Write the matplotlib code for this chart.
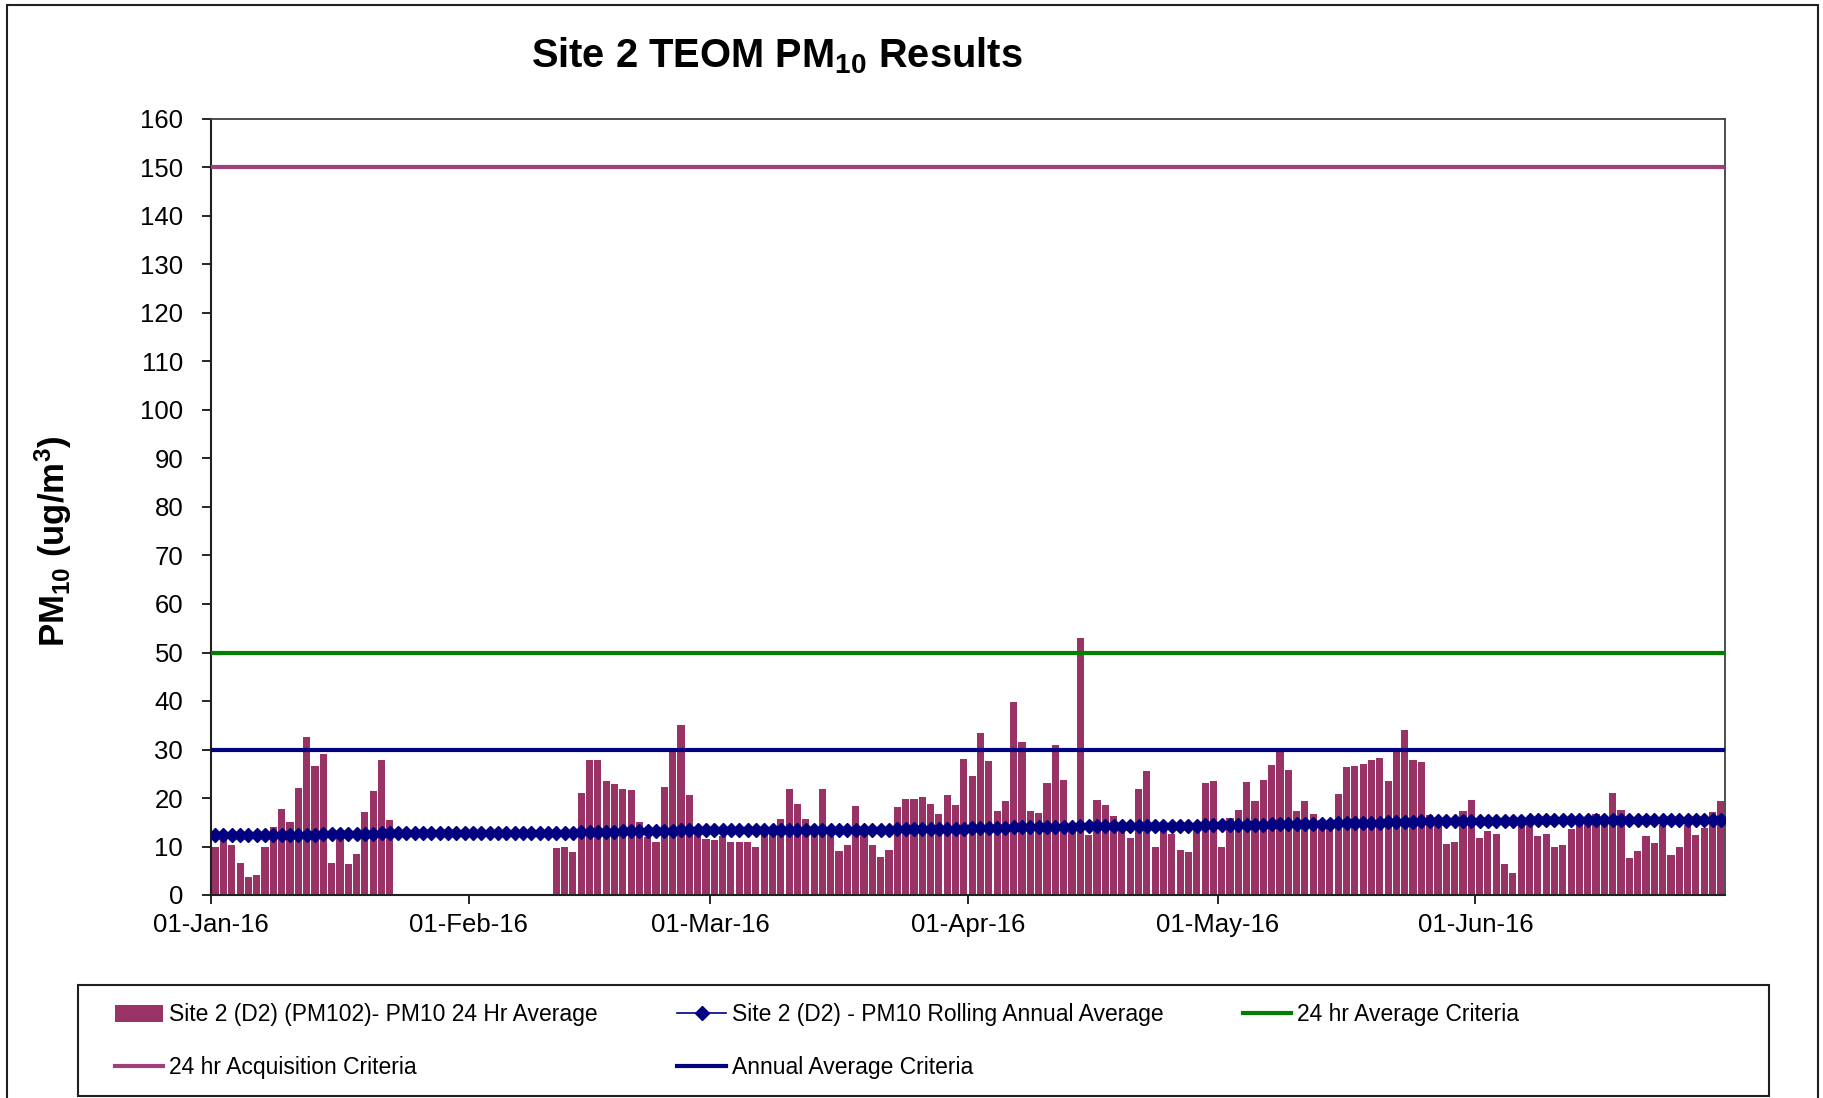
import numpy as np
import matplotlib
matplotlib.use("Agg")
import matplotlib.pyplot as plt
import matplotlib.dates as mdates
from matplotlib.patches import Rectangle

plt.rcParams['font.family'] = ['Liberation Sans', 'DejaVu Sans']
plt.rcParams['mathtext.fontset'] = 'custom'
plt.rcParams['mathtext.rm'] = 'Liberation Sans'
plt.rcParams['mathtext.bf'] = 'Liberation Sans:bold'
plt.rcParams['mathtext.it'] = 'Liberation Sans:italic'

nan = np.nan
# Daily dates (Jan 1 - Jun 30, 2016)
dates = np.arange('2016-01-01', '2016-07-01', dtype='datetime64[D]')

pm10_jan = [9.9, 12.5, 10.3, 6.6, 3.8, 4.1, 9.9, 14.1, 17.8, 15.1, 22.1, 32.6, 26.6, 29.1, 6.6, 12.0,
            6.3, 8.5, 17.1, 21.4, 27.8, 15.4, nan, nan, nan, nan, nan, nan, nan, nan, nan]
pm10_feb = [nan, nan, nan, nan, nan, nan, nan, nan, nan, nan, 9.6, 9.8, 8.8, 21.1, 27.8, 27.8, 23.6,
            22.8, 21.8, 21.6, 15.1, 12.0, 11.0, 22.3, 29.9, 35.1, 20.6, 12.5, 11.6]
pm10_mar = [11.3, 12.1, 11.0, 11.0, 11.0, 9.8, 12.5, 13.0, 15.6, 21.8, 18.8, 15.6, 12.5, 21.8, 12.5,
            9.0, 10.3, 18.3, 12.5, 10.3, 7.8, 9.3, 18.1, 19.8, 19.8, 20.3, 18.8, 16.8, 20.6, 18.5, 28.1]
pm10_apr = [24.6, 33.3, 27.6, 17.3, 19.3, 39.8, 31.5, 17.3, 17.0, 23.1, 31.0, 23.8, 13.0, 53.0, 12.4,
            19.5, 18.5, 16.3, 14.5, 11.8, 21.8, 25.6, 9.8, 13.5, 12.6, 9.3, 8.8, 13.5, 23.1, 23.5]
pm10_may = [9.8, 15.8, 17.6, 23.3, 19.3, 23.8, 26.8, 29.7, 25.8, 17.3, 19.3, 16.8, 15.5, 14.5, 20.8,
            26.3, 26.5, 27.1, 27.8, 28.3, 23.6, 29.9, 34.1, 27.8, 27.4, 16.5, 14.2, 10.6, 11.0, 17.3, 19.5]
pm10_jun = [11.8, 13.1, 12.6, 6.3, 4.5, 14.5, 15.0, 12.1, 12.6, 9.8, 10.3, 13.6, 14.5, 15.0, 16.8,
            15.0, 21.1, 17.6, 7.6, 9.0, 12.1, 10.8, 14.5, 8.3, 9.8, 14.5, 12.3, 13.8, 17.1, 19.3]

roll_jan = [12.3, 12.3, 12.3, 12.3, 12.3, 12.3, 12.3, 12.3, 12.3, 12.3, 12.4, 12.4, 12.4, 12.5, 12.5, 12.5,
            12.5, 12.6, 12.6, 12.6, 12.7, 12.7, 12.7, 12.7, 12.7, 12.7, 12.7, 12.7, 12.8, 12.8, 12.8]
roll_feb = [12.8, 12.8, 12.8, 12.8, 12.8, 12.8, 12.8, 12.8, 12.8, 12.8, 12.8, 12.8, 12.8, 12.9, 12.9,
            13.0, 13.0, 13.0, 13.1, 13.1, 13.1, 13.1, 13.1, 13.2, 13.2, 13.3, 13.3, 13.3, 13.3]
roll_mar = [13.3, 13.3, 13.3, 13.3, 13.3, 13.4, 13.4, 13.4, 13.4, 13.4, 13.4, 13.4, 13.5, 13.5, 13.5,
            13.5, 13.5, 13.5, 13.5, 13.5, 13.5, 13.5, 13.6, 13.6, 13.6, 13.6, 13.6, 13.6, 13.7, 13.7, 13.7]
roll_apr = [13.8, 13.8, 13.9, 13.9, 13.9, 14.0, 14.0, 14.0, 14.0, 14.1, 14.1, 14.1, 14.1, 14.2, 14.2,
            14.2, 14.2, 14.2, 14.2, 14.2, 14.3, 14.3, 14.3, 14.3, 14.3, 14.3, 14.3, 14.3, 14.4, 14.4]
roll_may = [14.4, 14.4, 14.4, 14.5, 14.5, 14.5, 14.6, 14.6, 14.6, 14.6, 14.7, 14.7, 14.7, 14.7, 14.8,
            14.8, 14.8, 14.9, 14.9, 14.9, 15.0, 15.0, 15.1, 15.1, 15.2, 15.2, 15.2, 15.2, 15.3, 15.3, 15.3]
roll_jun = [15.3, 15.3, 15.3, 15.3, 15.3, 15.3, 15.4, 15.4, 15.4, 15.4, 15.4, 15.4, 15.4, 15.4, 15.4,
            15.4, 15.4, 15.4, 15.4, 15.4, 15.5, 15.5, 15.5, 15.5, 15.5, 15.5, 15.5, 15.5, 15.5, 15.5]

criteria_24hr = 50
criteria_acq = 150
criteria_annual = 30

yticks = list(range(0, 161, 10))
month_ticks = ['2016-01-01', '2016-02-01', '2016-03-01', '2016-04-01', '2016-05-01', '2016-06-01']

labels = ['Site 2 (D2) (PM102)- PM10 24 Hr Average',
          '24 hr Acquisition Criteria',
          'Site 2 (D2) - PM10 Rolling Annual Average',
          'Annual Average Criteria',
          '24 hr Average Criteria']

pm10 = np.array(pm10_jan + pm10_feb + pm10_mar + pm10_apr + pm10_may + pm10_jun, dtype=float)
roll = np.array(roll_jan + roll_feb + roll_mar + roll_apr + roll_may + roll_jun, dtype=float)

W, H = 1823, 1098
fig = plt.figure(figsize=(W / 100, H / 100), dpi=100)
L, R, T, B = 211, 1725, 119, 895
ax = fig.add_axes([L / W, 1 - B / H, (R - L) / W, (B - T) / H])

xc = dates.astype('datetime64[h]') + np.timedelta64(12, 'h')
bars = ax.bar(xc, pm10, width=0.86, color='#993366', edgecolor='none', zorder=2)
roll_line, = ax.plot(xc, roll, color='#000080', lw=1.2, marker='D', markersize=7,
                     markerfacecolor='#000080', markeredgecolor='#000080', zorder=4)
l_acq = ax.axhline(criteria_acq, color='#A0407A', lw=3, zorder=3)
l_ann = ax.axhline(criteria_annual, color='#000080', lw=3, zorder=3)
l_24 = ax.axhline(criteria_24hr, color='#008000', lw=3, zorder=3)

ax.set_xlim(np.datetime64('2016-01-01'), np.datetime64('2016-07-01'))
ax.set_ylim(0, 160)
ax.set_yticks(yticks)
ax.set_xticks([np.datetime64(m) for m in month_ticks])
ax.xaxis.set_major_formatter(mdates.DateFormatter('%d-%b-%y'))
ax.tick_params(axis='y', direction='out', length=6.5, width=1.2, labelsize=18.5, pad=13.5, colors='black')
ax.tick_params(axis='x', direction='out', length=6.5, width=1.2, labelsize=18.5, pad=6.5, colors='black')
for s in ['left', 'bottom']:
    ax.spines[s].set_color('#202020')
    ax.spines[s].set_linewidth(1.5)
for s in ['top', 'right']:
    ax.spines[s].set_color('#404040')
    ax.spines[s].set_linewidth(1.3)

fig.text(777 / W, 1 - 55.5 / H, r'Site 2 TEOM PM$_{\mathbf{10}}$ Results', ha='center', va='center',
         fontsize=28.7, fontweight='bold')
fig.text(53 / W, 1 - 541 / H, r'PM$_{\mathbf{10}}$ (ug/m$^{\mathbf{3}}$)', ha='center', va='center',
         rotation=90, fontsize=25, fontweight='bold')

handles = [bars, l_acq, roll_line, l_ann, l_24]
fig.legend(handles, labels, ncol=3, loc='upper left', bbox_to_anchor=(115 / W, 1 - 1003.5 / H),
           bbox_transform=fig.transFigure, frameon=False, borderpad=0, borderaxespad=0,
           handlelength=2.1, handletextpad=0.26, columnspacing=3.48, labelspacing=1.3,
           fontsize=16.5, numpoints=1)

fig.patches.append(Rectangle((78 / W, 1 - 1096 / H), (1769 - 78) / W, (1096 - 985) / H,
                             transform=fig.transFigure, fill=False, edgecolor='#202020', lw=1.5))
fig.patches.append(Rectangle((7 / W, -0.02), (1818 - 7) / W, 1.02 - 5 / H,
                             transform=fig.transFigure, fill=False, edgecolor='#202020', lw=1.5,
                             clip_on=False))

fig.savefig('out.png', dpi=100, facecolor='white')
